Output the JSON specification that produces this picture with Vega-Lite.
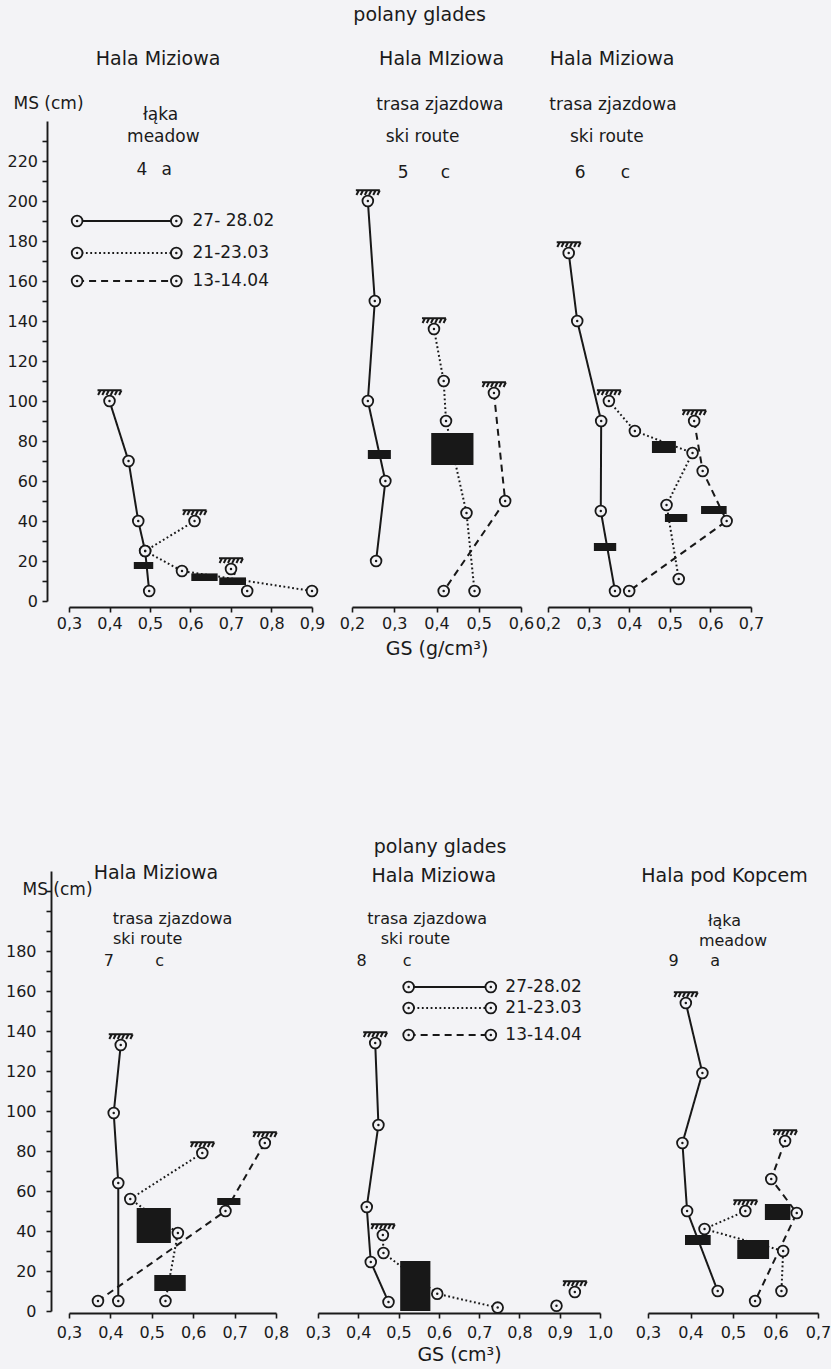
{
"$schema":"https://vega.github.io/schema/vega-lite/v6.json",
"background":"#f3f3f6",
"padding":{"left":5,"top":5,"right":0,"bottom":5},
"config":{"font":"DejaVu Sans","view":{"stroke":null},
 "axis":{"labelFontSize":16,"titleFontSize":19,"titleFontWeight":"normal","labelColor":"#1a1a1a","titleColor":"#1a1a1a","domainColor":"#1a1a1a","tickColor":"#1a1a1a","domainWidth":1.9,"tickWidth":1.6,"grid":false,"labelOverlap":false,"labelFont":"DejaVu Sans","titleFont":"DejaVu Sans"}},
"datasets":{
"pts":[
{"p":"4","s":"27-28.02","g":"d","o":1,"x":0.40,"y":100,"top":1},
{"p":"4","s":"27-28.02","g":"d","o":2,"x":0.447,"y":70,"top":0},
{"p":"4","s":"27-28.02","g":"d","o":3,"x":0.471,"y":40,"top":0},
{"p":"4","s":"27-28.02","g":"d","o":4,"x":0.488,"y":25,"top":0},
{"p":"4","s":"27-28.02","g":"d","o":5,"x":0.498,"y":5,"top":0},
{"p":"4","s":"21-23.03","g":"d","o":1,"x":0.61,"y":40,"top":1},
{"p":"4","s":"21-23.03","g":"d","o":2,"x":0.488,"y":25,"top":0},
{"p":"4","s":"21-23.03","g":"d","o":3,"x":0.579,"y":15,"top":0},
{"p":"4","s":"21-23.03","g":"d","o":4,"x":0.90,"y":5,"top":0},
{"p":"4","s":"13-14.04","g":"d","o":1,"x":0.70,"y":16,"top":1},
{"p":"4","s":"13-14.04","g":"d","o":2,"x":0.74,"y":5,"top":0},
{"p":"4","s":"27-28.02","g":"l","o":1,"x":0.32,"y":190,"top":0},
{"p":"4","s":"27-28.02","g":"l","o":2,"x":0.565,"y":190,"top":0},
{"p":"4","s":"21-23.03","g":"l","o":1,"x":0.32,"y":174,"top":0},
{"p":"4","s":"21-23.03","g":"l","o":2,"x":0.565,"y":174,"top":0},
{"p":"4","s":"13-14.04","g":"l","o":1,"x":0.32,"y":160,"top":0},
{"p":"4","s":"13-14.04","g":"l","o":2,"x":0.565,"y":160,"top":0},
{"p":"5","s":"27-28.02","g":"d","o":1,"x":0.2375,"y":200,"top":1},
{"p":"5","s":"27-28.02","g":"d","o":2,"x":0.254,"y":150,"top":0},
{"p":"5","s":"27-28.02","g":"d","o":3,"x":0.2375,"y":100,"top":0},
{"p":"5","s":"27-28.02","g":"d","o":4,"x":0.279,"y":60,"top":0},
{"p":"5","s":"27-28.02","g":"d","o":5,"x":0.257,"y":20,"top":0},
{"p":"5","s":"21-23.03","g":"d","o":1,"x":0.394,"y":136,"top":1},
{"p":"5","s":"21-23.03","g":"d","o":2,"x":0.417,"y":110,"top":0},
{"p":"5","s":"21-23.03","g":"d","o":3,"x":0.4225,"y":90,"top":0},
{"p":"5","s":"21-23.03","g":"d","o":4,"x":0.471,"y":44,"top":0},
{"p":"5","s":"21-23.03","g":"d","o":5,"x":0.49,"y":5,"top":0},
{"p":"5","s":"13-14.04","g":"d","o":1,"x":0.536,"y":104,"top":1},
{"p":"5","s":"13-14.04","g":"d","o":2,"x":0.5625,"y":50,"top":0},
{"p":"5","s":"13-14.04","g":"d","o":3,"x":0.417,"y":5,"top":0},
{"p":"6","s":"27-28.02","g":"d","o":1,"x":0.251,"y":174,"top":1},
{"p":"6","s":"27-28.02","g":"d","o":2,"x":0.272,"y":140,"top":0},
{"p":"6","s":"27-28.02","g":"d","o":3,"x":0.331,"y":90,"top":0},
{"p":"6","s":"27-28.02","g":"d","o":4,"x":0.33,"y":45,"top":0},
{"p":"6","s":"27-28.02","g":"d","o":5,"x":0.365,"y":5,"top":0},
{"p":"6","s":"21-23.03","g":"d","o":1,"x":0.35,"y":100,"top":1},
{"p":"6","s":"21-23.03","g":"d","o":2,"x":0.414,"y":85,"top":0},
{"p":"6","s":"21-23.03","g":"d","o":3,"x":0.556,"y":74,"top":0},
{"p":"6","s":"21-23.03","g":"d","o":4,"x":0.492,"y":48,"top":0},
{"p":"6","s":"21-23.03","g":"d","o":5,"x":0.522,"y":11,"top":0},
{"p":"6","s":"13-14.04","g":"d","o":1,"x":0.56,"y":90,"top":1},
{"p":"6","s":"13-14.04","g":"d","o":2,"x":0.581,"y":65,"top":0},
{"p":"6","s":"13-14.04","g":"d","o":3,"x":0.64,"y":40,"top":0},
{"p":"6","s":"13-14.04","g":"d","o":4,"x":0.40,"y":5,"top":0},
{"p":"7","s":"27-28.02","g":"d","o":1,"x":0.425,"y":133,"top":1},
{"p":"7","s":"27-28.02","g":"d","o":2,"x":0.408,"y":99,"top":0},
{"p":"7","s":"27-28.02","g":"d","o":3,"x":0.419,"y":64,"top":0},
{"p":"7","s":"27-28.02","g":"d","o":4,"x":0.419,"y":5,"top":0},
{"p":"7","s":"21-23.03","g":"d","o":1,"x":0.622,"y":79,"top":1},
{"p":"7","s":"21-23.03","g":"d","o":2,"x":0.448,"y":56,"top":0},
{"p":"7","s":"21-23.03","g":"d","o":3,"x":0.563,"y":39,"top":0},
{"p":"7","s":"21-23.03","g":"d","o":4,"x":0.533,"y":5,"top":0},
{"p":"7","s":"13-14.04","g":"d","o":1,"x":0.773,"y":84,"top":1},
{"p":"7","s":"13-14.04","g":"d","o":2,"x":0.678,"y":50,"top":0},
{"p":"7","s":"13-14.04","g":"d","o":3,"x":0.37,"y":5,"top":0},
{"p":"8","s":"27-28.02","g":"d","o":1,"x":0.442,"y":134,"top":1},
{"p":"8","s":"27-28.02","g":"d","o":2,"x":0.45,"y":93,"top":0},
{"p":"8","s":"27-28.02","g":"d","o":3,"x":0.421,"y":52,"top":0},
{"p":"8","s":"27-28.02","g":"d","o":4,"x":0.431,"y":24.5,"top":0},
{"p":"8","s":"27-28.02","g":"d","o":5,"x":0.475,"y":4.5,"top":0},
{"p":"8","s":"21-23.03","g":"d","o":1,"x":0.461,"y":38,"top":1},
{"p":"8","s":"21-23.03","g":"d","o":2,"x":0.4625,"y":29,"top":0},
{"p":"8","s":"21-23.03","g":"d","o":3,"x":0.596,"y":8.6,"top":0},
{"p":"8","s":"21-23.03","g":"d","o":4,"x":0.746,"y":1.7,"top":0},
{"p":"8","s":"13-14.04","g":"d","o":1,"x":0.9375,"y":9.5,"top":1},
{"p":"8","s":"13-14.04","g":"d","o":2,"x":0.892,"y":2.6,"top":0},
{"p":"8","s":"27-28.02","g":"l","o":1,"x":0.525,"y":162,"top":0},
{"p":"8","s":"27-28.02","g":"l","o":2,"x":0.729,"y":162,"top":0},
{"p":"8","s":"21-23.03","g":"l","o":1,"x":0.525,"y":151.5,"top":0},
{"p":"8","s":"21-23.03","g":"l","o":2,"x":0.729,"y":151.5,"top":0},
{"p":"8","s":"13-14.04","g":"l","o":1,"x":0.525,"y":138,"top":0},
{"p":"8","s":"13-14.04","g":"l","o":2,"x":0.729,"y":138,"top":0},
{"p":"9","s":"27-28.02","g":"d","o":1,"x":0.389,"y":154,"top":1},
{"p":"9","s":"27-28.02","g":"d","o":2,"x":0.428,"y":119,"top":0},
{"p":"9","s":"27-28.02","g":"d","o":3,"x":0.381,"y":84,"top":0},
{"p":"9","s":"27-28.02","g":"d","o":4,"x":0.392,"y":50,"top":0},
{"p":"9","s":"27-28.02","g":"d","o":5,"x":0.464,"y":10,"top":0},
{"p":"9","s":"21-23.03","g":"d","o":1,"x":0.529,"y":50,"top":1},
{"p":"9","s":"21-23.03","g":"d","o":2,"x":0.433,"y":41,"top":0},
{"p":"9","s":"21-23.03","g":"d","o":3,"x":0.618,"y":30,"top":0},
{"p":"9","s":"21-23.03","g":"d","o":4,"x":0.614,"y":10,"top":0},
{"p":"9","s":"13-14.04","g":"d","o":1,"x":0.6225,"y":85,"top":1},
{"p":"9","s":"13-14.04","g":"d","o":2,"x":0.59,"y":66,"top":0},
{"p":"9","s":"13-14.04","g":"d","o":3,"x":0.65,"y":49,"top":0},
{"p":"9","s":"13-14.04","g":"d","o":4,"x":0.552,"y":5,"top":0}
],
"blk":[
{"p":"4","x":0.46,"x2":0.508,"y":16,"y2":19.5},
{"p":"4","x":0.602,"x2":0.667,"y":10,"y2":13.8},
{"p":"4","x":0.671,"x2":0.737,"y":8,"y2":11.8},
{"p":"5","x":0.2375,"x2":0.292,"y":71,"y2":75.5},
{"p":"5","x":0.3875,"x2":0.4875,"y":68,"y2":84},
{"p":"6","x":0.313,"x2":0.368,"y":25,"y2":29},
{"p":"6","x":0.456,"x2":0.515,"y":74,"y2":80},
{"p":"6","x":0.488,"x2":0.543,"y":39.5,"y2":43.5},
{"p":"6","x":0.577,"x2":0.64,"y":43.5,"y2":47.5},
{"p":"7","x":0.4635,"x2":0.546,"y":34,"y2":51.5},
{"p":"7","x":0.506,"x2":0.582,"y":10,"y2":18},
{"p":"7","x":0.658,"x2":0.714,"y":53,"y2":56.5},
{"p":"8","x":0.504,"x2":0.579,"y":0,"y2":25},
{"p":"9","x":0.387,"x2":0.4475,"y":33,"y2":38},
{"p":"9","x":0.51,"x2":0.585,"y":26,"y2":35.5},
{"p":"9","x":0.575,"x2":0.635,"y":45.5,"y2":53.5}
],
"txt":[
{"p":"4","k":"h","x":0.52,"y":271,"t":"Hala Miziowa"},
{"p":"4","k":"s","x":0.526,"y":243,"t":"łąka"},
{"p":"4","k":"s","x":0.533,"y":232,"t":"meadow"},
{"p":"4","k":"s","x":0.48,"y":215.5,"t":"4"},
{"p":"4","k":"s","x":0.541,"y":215.5,"t":"a"},
{"p":"5","k":"h","x":0.36,"y":293,"t":"polany glades"},
{"p":"5","k":"h","x":0.412,"y":271,"t":"Hala MIziowa"},
{"p":"5","k":"s","x":0.408,"y":248,"t":"trasa zjazdowa"},
{"p":"5","k":"s","x":0.367,"y":232,"t":"ski route"},
{"p":"5","k":"s","x":0.321,"y":214,"t":"5"},
{"p":"5","k":"s","x":0.421,"y":214,"t":"c"},
{"p":"6","k":"h","x":0.358,"y":271,"t":"Hala Miziowa"},
{"p":"6","k":"s","x":0.36,"y":248,"t":"trasa zjazdowa"},
{"p":"6","k":"s","x":0.345,"y":232,"t":"ski route"},
{"p":"6","k":"s","x":0.279,"y":214,"t":"6"},
{"p":"6","k":"s","x":0.391,"y":214,"t":"c"},
{"p":"7","k":"h","x":0.51,"y":219,"t":"Hala Miziowa"},
{"p":"7","k":"s","x":0.55,"y":196,"t":"trasa zjazdowa"},
{"p":"7","k":"s","x":0.49,"y":186,"t":"ski route"},
{"p":"7","k":"s","x":0.396,"y":175,"t":"7"},
{"p":"7","k":"s","x":0.519,"y":175,"t":"c"},
{"p":"8","k":"h","x":0.603,"y":232,"t":"polany glades"},
{"p":"8","k":"h","x":0.5875,"y":217.5,"t":"Hala Miziowa"},
{"p":"8","k":"s","x":0.571,"y":196,"t":"trasa zjazdowa"},
{"p":"8","k":"s","x":0.542,"y":186,"t":"ski  route"},
{"p":"8","k":"s","x":0.408,"y":175,"t":"8"},
{"p":"8","k":"s","x":0.521,"y":175,"t":"c"},
{"p":"9","k":"h","x":0.48,"y":217.5,"t":"Hala pod Kopcem"},
{"p":"9","k":"s","x":0.48,"y":195,"t":"łąka"},
{"p":"9","k":"s","x":0.5,"y":185,"t":"meadow"},
{"p":"9","k":"s","x":0.36,"y":175,"t":"9"},
{"p":"9","k":"s","x":0.458,"y":175,"t":"a"}
],
"legt":[
{"p":"4","x":0.605,"y":190,"t":"27- 28.02"},
{"p":"4","x":0.605,"y":174,"t":"21-23.03"},
{"p":"4","x":0.605,"y":160,"t":"13-14.04"},
{"p":"8","x":0.765,"y":162,"t":"27-28.02"},
{"p":"8","x":0.765,"y":151.5,"t":"21-23.03"},
{"p":"8","x":0.765,"y":138,"t":"13-14.04"}
]
},
"spacing":180,
"vconcat":[
{"hconcat":[
{"width":243,"height":480,
 "encoding":{
  "x":{"field":"x","type":"quantitative","scale":{"domain":[0.3,0.9],"nice":false,"zero":false},"axis":{"values":[0.3,0.4,0.5,0.6,0.7,0.8,0.9],"labelExpr":"replace(format(datum.value,'.1f'),'.',',')","title":null,"offset":6,"tickSize":5,"labelPadding":3,"labelFlush":false}},
  "y":{"field":"y","type":"quantitative","scale":{"domain":[0,240],"nice":false,"zero":true},"axis":{"values":[0,10,20,30,40,50,60,70,80,90,100,110,120,130,140,150,160,170,180,190,200,210,220,230],"labelExpr":"datum.value % 20 == 0 ? datum.label : ''","title":"MS (cm)","titleFontSize":17,"titleAngle":0,"titleAlign":"left","titleBaseline":"bottom","titleX":-34,"titleY":-9,"offset":22,"tickSize":5,"labelPadding":4.5}}},
 "layer":[
  {"data":{"name":"pts"},"transform":[{"filter":"datum.p=='4'"}],"mark":{"type":"line","color":"#181818","strokeWidth":2,"strokeCap":"butt"},"encoding":{"order":{"field":"o","type":"quantitative"},"detail":[{"field":"s"},{"field":"g"}],"strokeDash":{"field":"s","type":"nominal","scale":{"domain":["27-28.02","21-23.03","13-14.04"],"range":[[1,0],[1.8,2.6],[7,5]]},"legend":null}}},
  {"data":{"name":"blk"},"transform":[{"filter":"datum.p=='4'"}],"mark":{"type":"rect","color":"#181818"},"encoding":{"x2":{"field":"x2"},"y2":{"field":"y2"}}},
  {"data":{"name":"pts"},"transform":[{"filter":"datum.p=='4'"}],"mark":{"type":"point","shape":"circle","size":115,"filled":true,"fill":"#f3f3f6","stroke":"#181818","strokeWidth":1.8,"opacity":1}},
  {"data":{"name":"pts"},"transform":[{"filter":"datum.p=='4'"}],"mark":{"type":"point","shape":"circle","size":6,"filled":true,"color":"#181818","opacity":1}},
  {"data":{"name":"pts"},"transform":[{"filter":"datum.p=='4' && datum.top==1"}],"mark":{"type":"point","shape":"M-1,-0.9L1,-0.9M-0.75,-0.9L-0.95,-0.5M-0.4,-0.9L-0.6,-0.5M-0.05,-0.9L-0.25,-0.5M0.3,-0.9L0.1,-0.5M0.65,-0.9L0.45,-0.5M1,-0.9L0.8,-0.5","size":576,"filled":false,"stroke":"#181818","strokeWidth":2,"opacity":1}},
  {"data":{"name":"txt"},"transform":[{"filter":"datum.p=='4' && datum.k=='h'"}],"mark":{"type":"text","fontSize":19,"color":"#1a1a1a"},"encoding":{"text":{"field":"t"}}},
  {"data":{"name":"txt"},"transform":[{"filter":"datum.p=='4' && datum.k=='s'"}],"mark":{"type":"text","fontSize":17,"color":"#1a1a1a"},"encoding":{"text":{"field":"t"}}},
  {"data":{"name":"legt"},"transform":[{"filter":"datum.p=='4'"}],"mark":{"type":"text","fontSize":17,"align":"left","color":"#1a1a1a"},"encoding":{"text":{"field":"t"}}}
 ]},
{"hconcat":[
{"width":169,"height":480,
 "encoding":{
  "x":{"field":"x","type":"quantitative","scale":{"domain":[0.2,0.6],"nice":false,"zero":false},"axis":{"values":[0.2,0.3,0.4,0.5,0.6],"labelExpr":"replace(format(datum.value,'.1f'),'.',',')","title":"GS (g/cm³)","titlePadding":8,"offset":6,"tickSize":5,"labelPadding":3,"labelFlush":false}},
  "y":{"field":"y","type":"quantitative","scale":{"domain":[0,240],"nice":false,"zero":true},"axis":null}},
 "layer":[
  {"data":{"name":"pts"},"transform":[{"filter":"datum.p=='5'"}],"mark":{"type":"line","color":"#181818","strokeWidth":2,"strokeCap":"butt"},"encoding":{"order":{"field":"o","type":"quantitative"},"detail":[{"field":"s"},{"field":"g"}],"strokeDash":{"field":"s","type":"nominal","scale":{"domain":["27-28.02","21-23.03","13-14.04"],"range":[[1,0],[1.8,2.6],[7,5]]},"legend":null}}},
  {"data":{"name":"blk"},"transform":[{"filter":"datum.p=='5'"}],"mark":{"type":"rect","color":"#181818"},"encoding":{"x2":{"field":"x2"},"y2":{"field":"y2"}}},
  {"data":{"name":"pts"},"transform":[{"filter":"datum.p=='5'"}],"mark":{"type":"point","shape":"circle","size":115,"filled":true,"fill":"#f3f3f6","stroke":"#181818","strokeWidth":1.8,"opacity":1}},
  {"data":{"name":"pts"},"transform":[{"filter":"datum.p=='5'"}],"mark":{"type":"point","shape":"circle","size":6,"filled":true,"color":"#181818","opacity":1}},
  {"data":{"name":"pts"},"transform":[{"filter":"datum.p=='5' && datum.top==1"}],"mark":{"type":"point","shape":"M-1,-0.9L1,-0.9M-0.75,-0.9L-0.95,-0.5M-0.4,-0.9L-0.6,-0.5M-0.05,-0.9L-0.25,-0.5M0.3,-0.9L0.1,-0.5M0.65,-0.9L0.45,-0.5M1,-0.9L0.8,-0.5","size":576,"filled":false,"stroke":"#181818","strokeWidth":2,"opacity":1}},
  {"data":{"name":"txt"},"transform":[{"filter":"datum.p=='5' && datum.k=='h'"}],"mark":{"type":"text","fontSize":19,"color":"#1a1a1a"},"encoding":{"text":{"field":"t"}}},
  {"data":{"name":"txt"},"transform":[{"filter":"datum.p=='5' && datum.k=='s'"}],"mark":{"type":"text","fontSize":17,"color":"#1a1a1a"},"encoding":{"text":{"field":"t"}}}
 ]},
{"width":203,"height":480,
 "encoding":{
  "x":{"field":"x","type":"quantitative","scale":{"domain":[0.2,0.7],"nice":false,"zero":false},"axis":{"values":[0.2,0.3,0.4,0.5,0.6,0.7],"labelExpr":"replace(format(datum.value,'.1f'),'.',',')","title":null,"offset":6,"tickSize":5,"labelPadding":3,"labelFlush":false}},
  "y":{"field":"y","type":"quantitative","scale":{"domain":[0,240],"nice":false,"zero":true},"axis":null}},
 "layer":[
  {"data":{"name":"pts"},"transform":[{"filter":"datum.p=='6'"}],"mark":{"type":"line","color":"#181818","strokeWidth":2,"strokeCap":"butt"},"encoding":{"order":{"field":"o","type":"quantitative"},"detail":[{"field":"s"},{"field":"g"}],"strokeDash":{"field":"s","type":"nominal","scale":{"domain":["27-28.02","21-23.03","13-14.04"],"range":[[1,0],[1.8,2.6],[7,5]]},"legend":null}}},
  {"data":{"name":"blk"},"transform":[{"filter":"datum.p=='6'"}],"mark":{"type":"rect","color":"#181818"},"encoding":{"x2":{"field":"x2"},"y2":{"field":"y2"}}},
  {"data":{"name":"pts"},"transform":[{"filter":"datum.p=='6'"}],"mark":{"type":"point","shape":"circle","size":115,"filled":true,"fill":"#f3f3f6","stroke":"#181818","strokeWidth":1.8,"opacity":1}},
  {"data":{"name":"pts"},"transform":[{"filter":"datum.p=='6'"}],"mark":{"type":"point","shape":"circle","size":6,"filled":true,"color":"#181818","opacity":1}},
  {"data":{"name":"pts"},"transform":[{"filter":"datum.p=='6' && datum.top==1"}],"mark":{"type":"point","shape":"M-1,-0.9L1,-0.9M-0.75,-0.9L-0.95,-0.5M-0.4,-0.9L-0.6,-0.5M-0.05,-0.9L-0.25,-0.5M0.3,-0.9L0.1,-0.5M0.65,-0.9L0.45,-0.5M1,-0.9L0.8,-0.5","size":576,"filled":false,"stroke":"#181818","strokeWidth":2,"opacity":1}},
  {"data":{"name":"txt"},"transform":[{"filter":"datum.p=='6' && datum.k=='h'"}],"mark":{"type":"text","fontSize":19,"color":"#1a1a1a"},"encoding":{"text":{"field":"t"}}},
  {"data":{"name":"txt"},"transform":[{"filter":"datum.p=='6' && datum.k=='s'"}],"mark":{"type":"text","fontSize":17,"color":"#1a1a1a"},"encoding":{"text":{"field":"t"}}}
 ]}
],"spacing":27,"bounds":"flush"}
],"spacing":40,"bounds":"flush"},
{"hconcat":[
{"width":207,"height":440,
 "encoding":{
  "x":{"field":"x","type":"quantitative","scale":{"domain":[0.3,0.8],"nice":false,"zero":false},"axis":{"values":[0.3,0.4,0.5,0.6,0.7,0.8],"labelExpr":"replace(format(datum.value,'.1f'),'.',',')","title":null,"offset":2,"tickSize":5,"labelPadding":6,"labelFlush":false}},
  "y":{"field":"y","type":"quantitative","scale":{"domain":[0,220],"nice":false,"zero":true},"axis":{"values":[0,10,20,30,40,50,60,70,80,90,100,110,120,130,140,150,160,170,180,190,200,210],"labelExpr":"datum.value % 20 == 0 && datum.value <= 180 ? datum.label : ''","title":"MS (cm)","titleFontSize":17,"titleAngle":0,"titleAlign":"left","titleBaseline":"middle","titleX":-29,"titleY":18,"offset":18,"tickSize":5,"labelPadding":10}}},
 "layer":[
  {"data":{"name":"pts"},"transform":[{"filter":"datum.p=='7'"}],"mark":{"type":"line","color":"#181818","strokeWidth":2,"strokeCap":"butt"},"encoding":{"order":{"field":"o","type":"quantitative"},"detail":[{"field":"s"},{"field":"g"}],"strokeDash":{"field":"s","type":"nominal","scale":{"domain":["27-28.02","21-23.03","13-14.04"],"range":[[1,0],[1.8,2.6],[7,5]]},"legend":null}}},
  {"data":{"name":"blk"},"transform":[{"filter":"datum.p=='7'"}],"mark":{"type":"rect","color":"#181818"},"encoding":{"x2":{"field":"x2"},"y2":{"field":"y2"}}},
  {"data":{"name":"pts"},"transform":[{"filter":"datum.p=='7'"}],"mark":{"type":"point","shape":"circle","size":115,"filled":true,"fill":"#f3f3f6","stroke":"#181818","strokeWidth":1.8,"opacity":1}},
  {"data":{"name":"pts"},"transform":[{"filter":"datum.p=='7'"}],"mark":{"type":"point","shape":"circle","size":6,"filled":true,"color":"#181818","opacity":1}},
  {"data":{"name":"pts"},"transform":[{"filter":"datum.p=='7' && datum.top==1"}],"mark":{"type":"point","shape":"M-1,-0.9L1,-0.9M-0.75,-0.9L-0.95,-0.5M-0.4,-0.9L-0.6,-0.5M-0.05,-0.9L-0.25,-0.5M0.3,-0.9L0.1,-0.5M0.65,-0.9L0.45,-0.5M1,-0.9L0.8,-0.5","size":576,"filled":false,"stroke":"#181818","strokeWidth":2,"opacity":1}},
  {"data":{"name":"txt"},"transform":[{"filter":"datum.p=='7' && datum.k=='h'"}],"mark":{"type":"text","fontSize":19,"color":"#1a1a1a"},"encoding":{"text":{"field":"t"}}},
  {"data":{"name":"txt"},"transform":[{"filter":"datum.p=='7' && datum.k=='s'"}],"mark":{"type":"text","fontSize":16,"color":"#1a1a1a"},"encoding":{"text":{"field":"t"}}}
 ]},
{"hconcat":[
{"width":282,"height":440,
 "encoding":{
  "x":{"field":"x","type":"quantitative","scale":{"domain":[0.3,1.0],"nice":false,"zero":false},"axis":{"values":[0.3,0.4,0.5,0.6,0.7,0.8,0.9,1.0],"labelExpr":"replace(format(datum.value,'.1f'),'.',',')","title":"GS (cm³)","titlePadding":5,"offset":2,"tickSize":5,"labelPadding":6,"labelFlush":false}},
  "y":{"field":"y","type":"quantitative","scale":{"domain":[0,220],"nice":false,"zero":true},"axis":null}},
 "layer":[
  {"data":{"name":"pts"},"transform":[{"filter":"datum.p=='8' && !(datum.s=='13-14.04' && datum.g=='d')"}],"mark":{"type":"line","color":"#181818","strokeWidth":2,"strokeCap":"butt"},"encoding":{"order":{"field":"o","type":"quantitative"},"detail":[{"field":"s"},{"field":"g"}],"strokeDash":{"field":"s","type":"nominal","scale":{"domain":["27-28.02","21-23.03","13-14.04"],"range":[[1,0],[1.8,2.6],[7,5]]},"legend":null}}},
  {"data":{"name":"blk"},"transform":[{"filter":"datum.p=='8'"}],"mark":{"type":"rect","color":"#181818"},"encoding":{"x2":{"field":"x2"},"y2":{"field":"y2"}}},
  {"data":{"name":"pts"},"transform":[{"filter":"datum.p=='8'"}],"mark":{"type":"point","shape":"circle","size":115,"filled":true,"fill":"#f3f3f6","stroke":"#181818","strokeWidth":1.8,"opacity":1}},
  {"data":{"name":"pts"},"transform":[{"filter":"datum.p=='8'"}],"mark":{"type":"point","shape":"circle","size":6,"filled":true,"color":"#181818","opacity":1}},
  {"data":{"name":"pts"},"transform":[{"filter":"datum.p=='8' && datum.top==1"}],"mark":{"type":"point","shape":"M-1,-0.9L1,-0.9M-0.75,-0.9L-0.95,-0.5M-0.4,-0.9L-0.6,-0.5M-0.05,-0.9L-0.25,-0.5M0.3,-0.9L0.1,-0.5M0.65,-0.9L0.45,-0.5M1,-0.9L0.8,-0.5","size":576,"filled":false,"stroke":"#181818","strokeWidth":2,"opacity":1}},
  {"data":{"name":"txt"},"transform":[{"filter":"datum.p=='8' && datum.k=='h'"}],"mark":{"type":"text","fontSize":19,"color":"#1a1a1a"},"encoding":{"text":{"field":"t"}}},
  {"data":{"name":"txt"},"transform":[{"filter":"datum.p=='8' && datum.k=='s'"}],"mark":{"type":"text","fontSize":16,"color":"#1a1a1a"},"encoding":{"text":{"field":"t"}}},
  {"data":{"name":"legt"},"transform":[{"filter":"datum.p=='8'"}],"mark":{"type":"text","fontSize":17,"align":"left","color":"#1a1a1a"},"encoding":{"text":{"field":"t"}}}
 ]},
{"width":170,"height":440,
 "encoding":{
  "x":{"field":"x","type":"quantitative","scale":{"domain":[0.3,0.7],"nice":false,"zero":false},"axis":{"values":[0.3,0.4,0.5,0.6,0.7],"labelExpr":"replace(format(datum.value,'.1f'),'.',',')","title":null,"offset":2,"tickSize":5,"labelPadding":6,"labelFlush":false}},
  "y":{"field":"y","type":"quantitative","scale":{"domain":[0,220],"nice":false,"zero":true},"axis":null}},
 "layer":[
  {"data":{"name":"pts"},"transform":[{"filter":"datum.p=='9'"}],"mark":{"type":"line","color":"#181818","strokeWidth":2,"strokeCap":"butt"},"encoding":{"order":{"field":"o","type":"quantitative"},"detail":[{"field":"s"},{"field":"g"}],"strokeDash":{"field":"s","type":"nominal","scale":{"domain":["27-28.02","21-23.03","13-14.04"],"range":[[1,0],[1.8,2.6],[7,5]]},"legend":null}}},
  {"data":{"name":"blk"},"transform":[{"filter":"datum.p=='9'"}],"mark":{"type":"rect","color":"#181818"},"encoding":{"x2":{"field":"x2"},"y2":{"field":"y2"}}},
  {"data":{"name":"pts"},"transform":[{"filter":"datum.p=='9'"}],"mark":{"type":"point","shape":"circle","size":115,"filled":true,"fill":"#f3f3f6","stroke":"#181818","strokeWidth":1.8,"opacity":1}},
  {"data":{"name":"pts"},"transform":[{"filter":"datum.p=='9'"}],"mark":{"type":"point","shape":"circle","size":6,"filled":true,"color":"#181818","opacity":1}},
  {"data":{"name":"pts"},"transform":[{"filter":"datum.p=='9' && datum.top==1"}],"mark":{"type":"point","shape":"M-1,-0.9L1,-0.9M-0.75,-0.9L-0.95,-0.5M-0.4,-0.9L-0.6,-0.5M-0.05,-0.9L-0.25,-0.5M0.3,-0.9L0.1,-0.5M0.65,-0.9L0.45,-0.5M1,-0.9L0.8,-0.5","size":576,"filled":false,"stroke":"#181818","strokeWidth":2,"opacity":1}},
  {"data":{"name":"txt"},"transform":[{"filter":"datum.p=='9' && datum.k=='h'"}],"mark":{"type":"text","fontSize":19,"color":"#1a1a1a"},"encoding":{"text":{"field":"t"}}},
  {"data":{"name":"txt"},"transform":[{"filter":"datum.p=='9' && datum.k=='s'"}],"mark":{"type":"text","fontSize":16,"color":"#1a1a1a"},"encoding":{"text":{"field":"t"}}}
 ]}
],"spacing":48,"bounds":"flush"}
],"spacing":42,"bounds":"flush"}
]
}
